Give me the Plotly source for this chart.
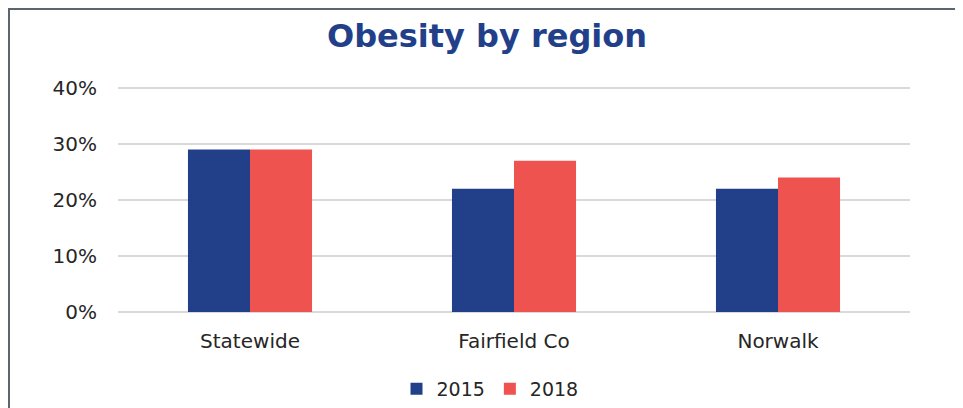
import plotly.graph_objects as go

# Data
regions = ["Statewide", "Fairfield Co", "Norwalk"]
obesity_2015 = [0.29, 0.22, 0.22]
obesity_2018 = [0.29, 0.27, 0.24]

blue = "#22408A"
red = "#EE5350"

fig = go.Figure()
fig.add_trace(go.Bar(name="2015", x=regions, y=obesity_2015, marker=dict(color=blue, line=dict(width=0))))
fig.add_trace(go.Bar(name="2018", x=regions, y=obesity_2018, marker=dict(color=red, line=dict(width=0))))

# page has an 8px body margin, so the figure is 955x400 and sits at (8, 8)
W, H = 955, 400
L, R, T, B = 110, 53, 78, 96
pw, ph = W - L - R, H - T - B
ytop = 0.4 + 2 / 560  # leave 2px above the 40% line so its gridline is drawn


def px(x):
    return (x - L) / pw


def py(y):
    return (H - B - y) / ph


fig.update_layout(
    width=W,
    height=H,
    margin=dict(l=L, r=R, t=T, b=B, autoexpand=False),
    plot_bgcolor="white",
    paper_bgcolor="white",
    barmode="group",
    bargap=0.53,
    bargroupgap=0,
    font=dict(family="DejaVu Sans, sans-serif", size=20, color="#262626"),
    title=dict(
        text="<b>Obesity by region</b>",
        x=479 / W, xanchor="center",
        y=1 - 28 / H, yanchor="middle",
        font=dict(family="DejaVu Sans, sans-serif", size=32, color=blue),
    ),
    showlegend=True,
    legend=dict(
        orientation="h",
        xref="container", yref="container",
        x=482 / W, xanchor="center",
        y=1 - 381 / H, yanchor="middle",
        font=dict(size=19, color="#262626"),
        itemwidth=30,
        traceorder="normal",
    ),
    xaxis=dict(
        showgrid=False,
        showline=False,
        ticks="",
        ticklabelstandoff=15,
        tickfont=dict(size=20, color="#262626"),
    ),
    yaxis=dict(
        range=[0, ytop],
        tickvals=[0, 0.1, 0.2, 0.3, 0.4],
        tickformat=".0%",
        showgrid=True,
        gridcolor="#D9D9D9",
        gridwidth=1.5,
        zeroline=True,
        zerolinecolor="#D9D9D9",
        zerolinewidth=1.5,
        showline=False,
        ticks="",
        ticklabelstandoff=20,
        tickfont=dict(size=20, color="#262626"),
    ),
    shapes=[
        dict(
            type="rect", xref="paper", yref="paper",
            x0=px(1), x1=px(950), y0=py(430), y1=py(1),
            line=dict(color="#5B6570", width=2),
            fillcolor="rgba(0,0,0,0)",
            layer="below",
        )
    ],
)

fig.write_html("out.html")
